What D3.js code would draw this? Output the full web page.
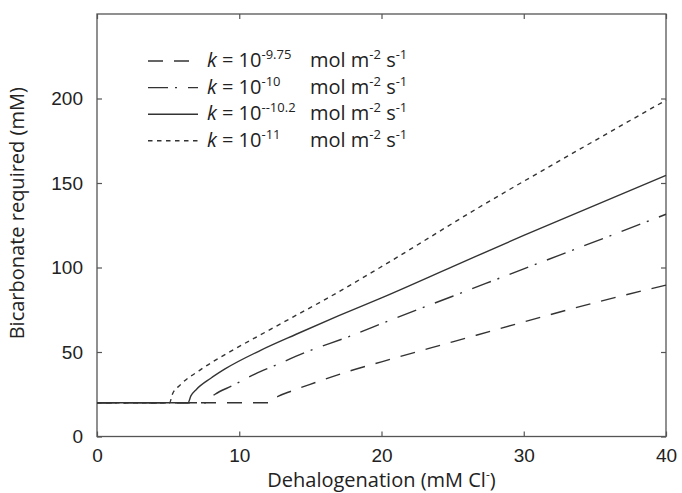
<!DOCTYPE html>
<html>
<head>
<meta charset="utf-8">
<script src="https://cdn.jsdelivr.net/npm/d3@7"></script>
<style>
  body { margin: 0; background: #fff; }
  svg { font-family: "Open Sans", "Noto Sans", sans-serif; }
</style>
</head>
<body>
<div id="chart"></div>
<script>
// -------------------- DATA --------------------
// dehalogenation (mM Cl-) -> bicarbonate required (mM)
const k975_x = [0, 12.1, 12.4, 12.8, 13.7, 15.3, 17.4, 20, 25, 30, 35, 40];
const k975_y = [20, 20, 22, 24, 27, 31.8, 37.8, 44.2, 56, 67.8, 79.2, 89.6];

const k10_x = [0, 7.7, 7.9, 8.3, 9.5, 11.1, 12.5, 14.75, 17.67, 20.6, 25, 30, 35, 40];
const k10_y = [20, 20, 22.5, 25, 30, 36.9, 42, 50.1, 59, 68.8, 83, 99.2, 115.3, 131.5];

const k102_x = [0, 6.4, 6.6, 7.0, 8.0, 9.0, 11.5, 14, 17, 20, 25, 30, 35, 40];
const k102_y = [20, 20, 24, 28, 34.5, 40, 51, 60.5, 71.5, 82, 100.5, 119, 136.8, 154.5];

const k11_x = [0, 5.1, 5.3, 5.84, 7.24, 9.12, 11.46, 13.8, 16.15, 19.9, 26.9, 34, 40];
const k11_y = [20, 20, 25, 30.4, 39.3, 49.1, 60, 70.8, 81.6, 100, 135.8, 170.3, 199];

const seriesExp = ["-9.75", "-10", "--10.2", "-11"];
const seriesDash = ["15,11", "20,7,2,11", null, "4.5,4.5"];
const xTicks = [0, 10, 20, 30, 40];
const yTicks = [0, 50, 100, 150, 200];

const series = [
  { exp: seriesExp[0], dash: seriesDash[0], pts: k975_x.map((x, i) => [x, k975_y[i]]) },
  { exp: seriesExp[1], dash: seriesDash[1], pts: k10_x.map((x, i) => [x, k10_y[i]]) },
  { exp: seriesExp[2], dash: seriesDash[2], pts: k102_x.map((x, i) => [x, k102_y[i]]) },
  { exp: seriesExp[3], dash: seriesDash[3], pts: k11_x.map((x, i) => [x, k11_y[i]]) }
];

// -------------------- LAYOUT --------------------
const W = 682, H = 493;
const margin = { top: 14, right: 16, bottom: 56.5, left: 97 },
      width = W - margin.left - margin.right,
      height = H - margin.top - margin.bottom;

const svg = d3.select("#chart")
  .append("svg")
  .attr("width", W)
  .attr("height", H)
  .append("g")
  .attr("transform", `translate(${margin.left}, ${margin.top})`);

const x = d3.scaleLinear().domain([0, 40]).range([0, width]);
const y = d3.scaleLinear().domain([0, 250]).range([height, 0]);

const ink = "#333";

// -------------------- AXES (matlab style box, inward ticks) --------------------
const tl = 5;
svg.append("g")
  .attr("transform", `translate(0, ${height})`)
  .call(d3.axisBottom(x).tickValues(xTicks).tickSize(-tl).tickPadding(tl + 7))
  .call(g => g.select(".domain").remove());
svg.append("g")
  .call(d3.axisTop(x).tickValues(xTicks).tickSize(-tl).tickFormat(""))
  .call(g => g.select(".domain").remove());
svg.append("g")
  .call(d3.axisLeft(y).tickValues(yTicks).tickSize(-tl).tickPadding(tl + 9))
  .call(g => g.select(".domain").remove());
svg.append("g")
  .attr("transform", `translate(${width}, 0)`)
  .call(d3.axisRight(y).tickValues(yTicks).tickSize(-tl).tickFormat(""))
  .call(g => g.select(".domain").remove());

svg.selectAll(".tick line").attr("stroke", "#555").attr("stroke-width", 1.2);
svg.selectAll(".tick text")
  .style("font-size", "19px")
  .style("fill", "#222")
  .style("font-family", "inherit");

svg.append("rect")
  .attr("width", width)
  .attr("height", height)
  .attr("fill", "none")
  .attr("stroke", "#555")
  .attr("stroke-width", 1.3);

// axis titles
svg.append("text")
  .attr("x", width / 2)
  .attr("y", height + 50)
  .attr("text-anchor", "middle")
  .style("font-size", "20px")
  .style("fill", "#222")
  .call(t => {
    t.append("tspan").text("Dehalogenation (mM Cl");
    t.append("tspan").attr("dy", -8).style("font-size", "12px").text("-");
    t.append("tspan").attr("dy", 8).text(")");
  });

svg.append("text")
  .attr("transform", `translate(${-73}, ${height / 2 - 12}) rotate(-90)`)
  .attr("text-anchor", "middle")
  .style("font-size", "20px")
  .style("fill", "#222")
  .text("Bicarbonate required (mM)");

// -------------------- CURVES --------------------
const line = d3.line()
  .x(d => x(d[0]))
  .y(d => y(d[1]))
  .curve(d3.curveMonotoneX);

svg.selectAll(".curve")
  .data(series)
  .join("path")
  .attr("class", "curve")
  .attr("d", d => line(d.pts))
  .attr("fill", "none")
  .attr("stroke", ink)
  .attr("stroke-width", 1.4)
  .attr("stroke-dasharray", d => d.dash);

// -------------------- LEGEND --------------------
const legend = svg.append("g").attr("transform", `translate(${148 - margin.left}, ${67 - margin.top})`);
const rowH = 26.6;

const rows = legend.selectAll(".row")
  .data(series)
  .join("g")
  .attr("class", "row")
  .attr("transform", (d, i) => `translate(0, ${i * rowH})`);

rows.append("line")
  .attr("x1", 0).attr("x2", 50)
  .attr("y1", -6).attr("y2", -6)
  .attr("stroke", ink)
  .attr("stroke-width", 1.4)
  .attr("stroke-dasharray", d => d.dash);

rows.append("text")
  .attr("x", 59)
  .style("font-size", "20px")
  .style("fill", "#222")
  .each(function(d) {
    const t = d3.select(this);
    t.append("tspan").style("font-style", "italic").text("k");
    t.append("tspan").text(" = 10");
    t.append("tspan").attr("dy", -8).style("font-size", "13px").text(d.exp);
    t.append("tspan").attr("x", 162).attr("dy", 8).text("mol m");
    t.append("tspan").attr("dy", -8).style("font-size", "13px").text("-2");
    t.append("tspan").attr("dy", 8).text(" s");
    t.append("tspan").attr("dy", -8).style("font-size", "13px").text("-1");
  });
</script>
</body>
</html>
